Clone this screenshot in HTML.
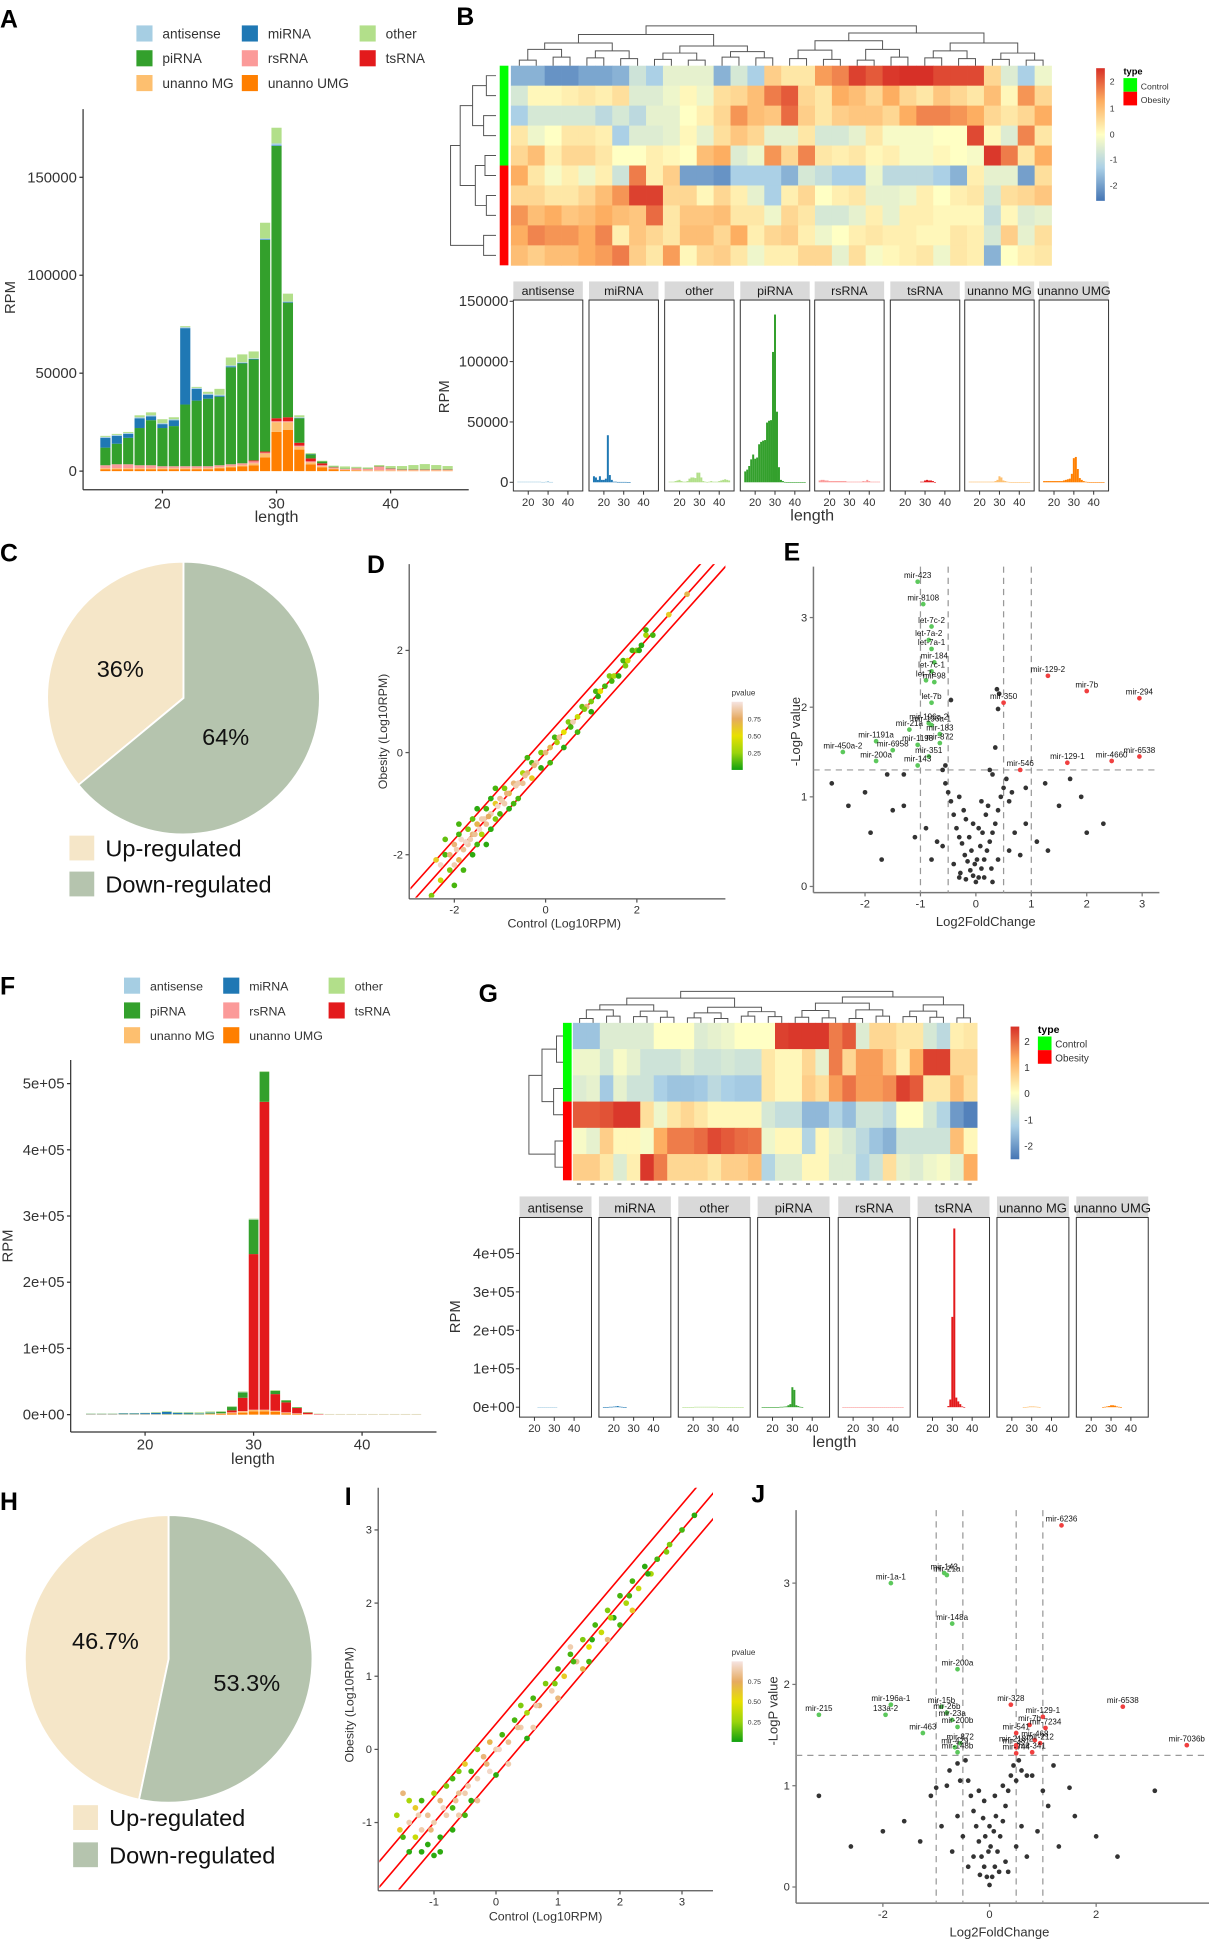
<!DOCTYPE html>
<html><head><meta charset="utf-8"><style>
html,body{margin:0;padding:0;background:#fff;}
svg{display:block;font-family:"Liberation Sans",sans-serif;}
</style></head><body>
<svg id="fig" width="1209" height="1949" viewBox="0 0 975 1572" preserveAspectRatio="none" xmlns="http://www.w3.org/2000/svg">
<rect x="0" y="0" width="975" height="1572" fill="#fff"/>
<g font-weight="bold" font-size="20" fill="#000">
<text x="0" y="22">A</text>
<text x="368" y="20">B</text>
<text x="0" y="453">C</text>
<text x="296" y="462">D</text>
<text x="632" y="452">E</text>
<text x="0" y="802">F</text>
<text x="386" y="808">G</text>
<text x="0" y="1218">H</text>
<text x="278" y="1214">I</text>
<text x="606" y="1212">J</text>
</g>
</svg>
<script>
const NS='http://www.w3.org/2000/svg';
const svg=document.getElementById('fig');
// ---------- DATA ----------
const cats=['antisense','miRNA','other','piRNA','rsRNA','tsRNA','unanno MG','unanno UMG'];
const catColors=['#a6cee3','#1f78b4','#b2df8a','#33a02c','#fb9a99','#e31a1c','#fdbf6f','#ff7f00'];
const lengths=[15,16,17,18,19,20,21,22,23,24,25,26,27,28,29,30,31,32,33,34,35,36,37,38,39,40,41,42,43,44,45];
const A_UMG=[1000,1000,1000,1000,1000,1000,1000,1000,1000,1000,1500,2000,2500,3000,7000,20000,21000,11000,3500,2000,1000,500,300,200,200,200,200,200,200,200,200];
const A_MG=[500,500,500,500,500,500,500,500,500,500,500,500,500,1000,2000,5000,4000,1500,1000,500,300,200,200,200,200,200,200,200,200,200,200];
const A_rs=[1500,2000,2000,1500,1500,1000,1000,1000,1000,1000,1000,1000,1000,1000,500,500,500,500,500,500,500,500,1000,800,2000,1000,500,500,500,500,500];
const A_ts=[0,0,0,0,0,0,0,0,0,0,0,0,0,500,500,1500,2000,1500,1500,1000,200,0,0,0,0,0,0,0,0,0,0];
const A_pi=[9000,10500,13500,19000,23000,19500,20500,31500,33500,34500,35000,49500,51000,51500,108000,139000,58500,12500,2000,1000,300,200,200,200,200,200,200,200,200,200,200];
const A_mi=[5000,4000,2000,5000,2000,2000,3000,39000,6000,2000,500,500,300,300,300,300,300,200,200,0,0,0,0,0,0,0,0,0,0,0,0];
const A_anti=[500,500,500,500,500,500,500,500,500,500,500,500,300,300,500,1000,300,300,0,0,0,0,0,0,0,0,0,0,0,0,0];
const A_other=[500,500,500,1000,1500,2000,1000,500,500,1000,3000,4000,4000,3500,8000,8000,4000,1000,500,300,500,1000,500,500,500,1000,1500,2000,2500,2000,1500];
const F_UMG=[0,0,0,0,0,0,0,0,0,0,0,500,1000,2000,3000,5000,5000,4000,2000,1000,500,0,0,0,0,0,0,0,0,0,0];
const F_MG=[0,0,0,0,0,0,0,0,0,0,0,500,500,1000,2000,2000,2000,1500,1000,500,0,0,0,0,0,0,0,0,0,0,0];
const F_rs=[500,500,500,500,500,500,500,500,500,500,500,500,500,500,500,500,500,500,500,500,500,500,500,500,500,500,500,500,500,500,500];
const F_ts=[0,0,0,0,0,0,0,0,0,0,0,0,0,3000,20000,235000,465000,25000,15000,8000,2000,500,0,0,0,0,0,0,0,0,0];
const F_pi=[300,300,300,300,300,300,300,500,500,1000,1000,1500,2000,5000,8000,52000,45000,5000,3000,1000,500,0,0,0,0,0,0,0,0,0,0];
const F_mi=[500,500,500,1000,1000,1500,2000,3000,1500,1000,500,300,0,0,0,0,0,0,0,0,0,0,0,0,0,0,0,0,0,0,0];
const F_anti=[0,0,0,0,0,0,0,500,500,500,500,500,500,500,500,500,500,0,0,0,0,0,0,0,0,0,0,0,0,0,0];
const F_other=[500,500,500,500,500,500,1000,1000,1000,1000,1000,1000,1000,1000,1000,1000,1000,1000,500,500,500,500,500,500,500,500,500,500,500,500,500];
const heatB=[
[-1.5,-1.5,-2,-2,-1.7,-1.7,-1.5,-0.6,-1,-0.3,-0.3,-0.3,-1.5,-0.5,-1,0.6,0.3,0.3,1.2,1.5,2.3,2.0,2.4,2.5,2.5,2.2,2.2,2.2,0.5,-0.4,-1,-0.2],
[-0.5,0.1,0.1,0.2,0.3,0.2,0.4,-0.4,-0.4,-0.2,0.1,-0.2,0.4,0.5,0.8,1.6,2.0,0.5,0.3,1.0,0.8,0.5,1.0,0.5,0.3,0.7,0.5,0.3,0.8,0.1,1.3,0.5],
[-1.0,-0.5,-0.5,-0.5,-0.5,-0.8,-0.5,-0.8,-0.3,-0.3,0,0.2,0.5,1.3,0.8,0.7,1.8,0.6,0.3,0.6,0.7,0.7,0.5,1.0,1.5,1.5,1.3,1.0,0.5,0.3,0.5,1.0],
[0.3,-0.2,0,0.3,0.3,0.2,-1.0,-0.4,-0.4,-0.3,0.1,-0.3,0.4,0.7,0.5,-0.3,-0.3,0.3,-0.5,-0.5,-0.3,0.3,-0.1,-0.1,-0.1,0,0,2.2,0.1,-0.4,1.5,0.3],
[0.5,0.8,0.2,0.5,0.5,0.3,0,0,0.2,0.1,0,0.8,1,-0.4,-0.2,1.3,0.5,1.5,0.3,0.2,0.3,0.1,0.2,-0.1,-0.1,0.1,0,-0.1,2.4,1.6,0.3,1.0],
[1.0,0.3,-0.1,0.2,-0.2,0.2,-0.6,1.6,0.2,0.6,-1.8,-1.8,-2,-1,-1,-1,-1.5,-0.5,-0.7,-1,-1,-0.2,-0.8,-0.8,-0.8,-1,-1.5,0.2,-0.3,-0.3,-1.8,0.4],
[0.5,0.5,0.3,0.3,0.5,0.8,1.3,2.3,2.3,0.5,0.5,0.1,0.5,0.2,-0.3,-1.0,0.2,0.5,0,0.2,0.3,-0.3,-0.3,-0.2,0.2,0,0.2,0.3,-0.5,0.4,0.5,0.7],
[1.3,0.8,1,0.7,0.8,1,0.8,0.7,1.8,0.3,0.7,0.7,0.8,0.3,0.3,-0.2,0.5,0.3,-0.5,-0.5,-0.3,0.2,-0.3,0.2,0.2,0.1,0.1,0.1,-0.7,0.1,-0.4,-0.3],
[1.0,1.5,1.3,1.3,1,1.5,0.2,0.7,0.5,0.3,0.8,0.8,0.5,1.0,0.2,0.5,0.6,0.2,-0.2,0,0.2,0.3,0.2,0.2,0.1,0.1,0.3,0.2,-0.5,0.6,-0.3,0.4],
[0.8,0.6,0.8,0.8,1,1.2,1.6,0.6,0.3,1.2,0.1,0.5,0.6,0.3,-0.2,0.2,0.2,0.5,0.5,-0.3,0.4,-0.1,0.1,0.2,0.3,-0.2,0.3,0.2,-1.5,0,0.2,0.3]];
const heatG=[
[-1.2,-1.2,-0.4,-0.4,-0.4,-0.4,0,0,0,-0.4,-0.3,-0.2,0,0,0,2.3,2.4,2.4,2.4,1.6,2.0,-0.4,0.5,0.5,0.3,0.3,-0.5,-0.8,0.2,0.3],
[-0.2,-0.2,-0.5,-0.1,-0.3,-0.6,-0.6,-0.6,-0.4,-0.6,-0.6,-0.5,-0.6,-0.6,0.3,0.1,0.1,0.5,-0.3,1.6,0.5,1.2,1.2,0.7,0.2,1.0,2.3,2.3,0.5,0.5],
[-0.4,-0.3,-1.1,-0.3,-0.6,-0.6,-1,-1.2,-1.2,-1.1,-0.8,-1,-1.1,-1.1,0.3,0.1,0.1,0.6,0.4,1.2,1.7,1.2,1.2,1.4,2.3,2.0,0.3,0.3,0.8,0.4],
[2.0,2.0,2.1,2.4,2.4,0.4,-0.2,0.3,0.5,0.3,0.1,0.1,0.1,0.1,-0.5,-0.7,-0.7,-1.4,-1.4,-0.9,-1.3,-0.6,-0.6,-0.8,0,0,-0.5,-0.9,-1.9,-2.3],
[-0.1,-0.3,0.6,0.1,0.1,-0.1,1.0,1.6,1.6,1.8,2.2,2.0,1.8,1.7,-0.2,0.1,0.1,-0.9,0.1,-0.3,-0.5,-0.8,-1.2,-1.5,-0.6,-0.6,-0.6,-0.6,0.8,0.1],
[0.6,0.6,0.3,-0.4,0.2,2.4,1.6,0.5,0.5,0.5,0.3,0.6,0.6,0.8,-0.9,-0.4,-0.4,0.1,0.1,-0.4,-0.4,-0.9,-0.6,0.4,-0.3,-0.4,-0.2,-0.1,-0.3,1.0]];
const pieC=[36,64];
const pieH=[46.7,53.3];
const D_x=[-2.4,-2.3,-2.2,-2.1,-2.0,-2.0,-1.9,-1.9,-1.8,-1.8,-1.7,-1.7,-1.6,-1.6,-1.6,-1.5,-1.5,-1.4,-1.4,-1.3,-1.3,-1.2,-1.2,-1.1,-1.1,-1.0,-1.0,-0.9,-0.9,-0.8,-0.8,-0.7,-0.6,-0.6,-0.5,-0.5,-0.4,-0.3,-0.3,-0.2,-0.1,-0.1,0.0,0.1,0.1,0.2,0.3,0.4,0.4,0.5,0.6,0.7,0.7,0.8,0.9,1.0,1.0,1.1,1.2,1.3,1.4,1.5,1.6,1.7,1.8,1.9,2.0,2.1,2.2,2.2,2.7,3.1,-1.5,-1.9,-2.0,-1.3,-1.1,-0.7,-2.2,-1.75,-1.45,-1.65,
-2.3,-2.1,-1.95,-1.85,-1.55,-1.35,-1.25,-1.05,-0.95,-0.85,-0.65,-0.45,-0.25,0.25,0.55,0.85,1.15,1.45,1.75,2.05,2.35,-2.5,-1.2,-0.4];
const D_y=[-2.1,-2.5,-2.0,-2.3,-1.8,-2.2,-1.6,-2.1,-1.9,-2.3,-1.5,-1.8,-1.6,-2.0,-1.3,-1.4,-1.8,-1.3,-1.6,-1.1,-1.4,-1.2,-1.5,-1.0,-1.3,-0.9,-1.2,-0.7,-1.0,-0.8,-1.1,-0.6,-0.6,-0.9,-0.4,-0.6,-0.4,-0.2,-0.5,-0.2,0.0,-0.3,0.0,0.1,-0.2,0.3,0.3,0.4,0.1,0.6,0.6,0.7,0.4,0.9,0.9,1.0,0.8,1.2,1.2,1.3,1.5,1.5,1.5,1.8,1.8,2.0,2.0,2.1,2.3,2.4,2.7,3.1,-1.1,-1.4,-2.6,-1.8,-0.7,-1.0,-1.7,-1.75,-1.5,-1.7,
-2.2,-2.0,-1.9,-1.7,-1.6,-1.3,-1.25,-1.05,-0.95,-0.8,-0.65,-0.45,-0.25,0.2,0.5,0.85,1.1,1.4,1.7,2.0,2.3,-2.8,-0.9,-0.1];
const D_p=[0.6,0.4,0.1,0.2,0.8,0.9,0.1,0.7,0.85,0.1,0.2,0.9,0.8,0.05,0.15,0.7,0.1,0.9,0.3,0.1,0.85,0.9,0.05,0.6,0.2,0.85,0.1,0.2,0.9,0.7,0.05,0.8,0.9,0.1,0.3,0.85,0.8,0.1,0.6,0.9,0.2,0.05,0.8,0.7,0.1,0.1,0.85,0.5,0.05,0.2,0.9,0.4,0.1,0.15,0.8,0.2,0.05,0.1,0.5,0.1,0.2,0.3,0.05,0.1,0.4,0.1,0.2,0.05,0.3,0.1,0.6,0.7,0.05,0.1,0.1,0.05,0.1,0.1,0.15,0.95,0.95,0.9,
0.95,0.8,0.9,0.95,0.85,0.9,0.75,0.95,0.9,0.8,0.9,0.85,0.8,0.3,0.1,0.2,0.05,0.1,0.2,0.05,0.1,0.2,0.05,0.1];
const I_x=[-1.6,-1.5,-1.5,-1.4,-1.4,-1.3,-1.3,-1.2,-1.2,-1.1,-1.1,-1.0,-1.0,-0.9,-0.9,-0.8,-0.8,-0.7,-0.7,-0.6,-0.6,-0.5,-0.5,-0.4,-0.4,-0.3,-0.3,-0.2,-0.1,0.0,0.1,0.2,0.3,0.4,0.5,0.6,0.7,0.8,0.9,1.0,1.1,1.2,1.3,1.4,1.5,1.6,1.7,1.8,1.9,2.0,2.1,2.2,2.3,2.4,2.5,2.6,2.8,3.0,3.2,-1.2,-0.9,-0.6,-0.3,0.2,0.6,1.0,1.4,1.8,2.2,-1.4,-0.7,-0.1,0.4,1.2,2.0,
-1.55,-1.25,-1.05,-0.85,-0.65,-0.45,-0.15,0.05,0.35,0.65,0.95,1.25,1.55,1.85,2.15,2.45,2.75,-1.0,-0.5,0.0,0.5,1.5];
const I_y=[-0.9,-1.2,-0.6,-1.0,-1.4,-0.8,-1.2,-1.1,-0.7,-0.9,-1.3,-0.6,-1.0,-0.7,-1.2,-0.5,-0.9,-0.4,-1.1,-0.6,-0.3,-0.2,-0.6,-0.3,-0.7,0.0,-0.4,-0.1,0.1,0.0,0.2,0.1,0.4,0.3,0.5,0.7,0.6,0.9,0.8,1.1,1.0,1.3,1.2,1.5,1.4,1.7,1.6,1.9,1.8,2.1,2.0,2.3,2.2,2.5,2.4,2.6,2.8,3.0,3.2,-1.4,-1.4,-0.9,-0.7,-0.2,0.3,0.7,1.1,1.5,1.9,-0.7,-0.8,-0.3,0.6,1.4,1.7,
-1.1,-0.9,-1.1,-0.8,-0.7,-0.5,-0.2,0.0,0.3,0.6,0.9,1.2,1.5,1.8,2.1,2.4,2.7,-1.45,-0.9,-0.35,0.15,1.2];
const I_p=[0.3,0.1,0.8,0.9,0.05,0.6,0.4,0.9,0.1,0.85,0.05,0.3,0.9,0.8,0.05,0.2,0.9,0.1,0.05,0.85,0.2,0.6,0.9,0.1,0.05,0.2,0.9,0.8,0.7,0.9,0.1,0.85,0.1,0.9,0.3,0.1,0.8,0.2,0.9,0.1,0.6,0.1,0.85,0.2,0.5,0.1,0.4,0.2,0.05,0.1,0.3,0.1,0.4,0.05,0.3,0.1,0.2,0.1,0.05,0.05,0.05,0.9,0.85,0.9,0.9,0.8,0.7,0.8,0.6,0.3,0.1,0.95,0.2,0.9,0.1,
0.6,0.9,0.8,0.95,0.85,0.9,0.8,0.95,0.85,0.9,0.2,0.1,0.05,0.3,0.1,0.05,0.2,0.05,0.1,0.05,0.05,0.1];
const E_lab=['mir-423','mir-8108','let-7c-2','let-7a-2','let-7a-1','mir-184','let-7c-1','let-7e','mir-98','let-7b','mir-196a-2','mir-196a-1','mir-21a','mir-183','mir-1191a','mir-1198','mir-872','mir-450a-2','mir-6958','mir-351','mir-143','mir-200a','mir-129-2','mir-7b','mir-294','mir-350','mir-546','mir-129-1','mir-4660','mir-6538'];
const E_labX=[-1.05,-0.95,-0.8,-0.85,-0.8,-0.75,-0.8,-0.9,-0.75,-0.8,-0.85,-0.8,-1.2,-0.65,-1.8,-1.05,-0.65,-2.4,-1.5,-0.85,-1.05,-1.8,1.3,2.0,2.95,0.5,0.8,1.65,2.45,2.95];
const E_labY=[3.4,3.15,2.9,2.75,2.65,2.5,2.4,2.3,2.28,2.05,1.82,1.8,1.75,1.7,1.62,1.58,1.6,1.5,1.52,1.45,1.35,1.4,2.35,2.18,2.1,2.05,1.3,1.38,1.4,1.45];
const E_cx=[0,0.05,-0.05,0.1,-0.1,0.15,-0.15,0.2,-0.2,0.25,-0.25,0.3,-0.3,0.35,-0.35,0.4,-0.4,0.45,-0.45,0.5,-0.5,0.55,-0.55,0.02,-0.02,0.08,-0.08,0.12,-0.12,0.18,-0.18,0.22,-0.22,0.28,-0.28,0.4,-0.4,0.6,-0.6,0.7,-0.7,0.8,-0.8,0.9,-0.9,1.1,-1.1,1.3,-1.3,1.5,-1.5,1.7,-1.7,1.9,-1.9,2.0,-2.0,2.3,-2.3,-2.6,0.38,0.42,0.4,0.35,-0.45,-0.6,-0.55,0.3,0.25,0.6,0.65,0.9,1.25,-1.3,-1.6,-0.3,0.1,-0.05,0.05,0.15,-0.18,0.3,-0.3];
const E_cy=[0.05,0.1,0.12,0.2,0.18,0.3,0.28,0.4,0.35,0.5,0.48,0.6,0.55,0.7,0.65,0.85,0.8,1.0,0.95,1.1,1.05,1.2,1.15,0.3,0.25,0.45,0.4,0.6,0.55,0.8,0.75,0.9,0.85,0.2,0.15,0.3,0.25,0.4,0.45,0.6,0.5,0.35,0.3,0.7,0.65,0.5,0.55,0.4,0.9,0.9,0.85,1.2,0.3,1.0,0.6,0.6,1.05,0.7,0.9,1.15,2.2,2.15,1.98,1.55,2.08,1.3,1.35,1.25,1.3,0.95,1.05,1.1,1.15,1.25,1.25,1.0,0.95,0.7,0.65,0.1,0.08,0.05,0.1];
const J_lab=['mir-6236','mir-143','mir-21a','mir-1a-1','mir-148a','mir-200a','mir-196a-1','mir-15b','mir-26b','mir-23a','mir-215','133a-2','mir-200b','mir-463','mir-872','mir-429','mir-148b','mir-328','mir-129-1','mir-7b','mir-7234','mir-541','mir-468','mir-218-2','mir-212','mir-381','mir-744','mir-341','mir-6538','mir-7036b'];
const J_labX=[1.35,-0.85,-0.8,-1.85,-0.7,-0.6,-1.85,-0.9,-0.8,-0.7,-3.2,-1.95,-0.6,-1.25,-0.55,-0.65,-0.6,0.4,1.0,0.75,1.05,0.5,0.85,0.5,0.95,0.5,0.5,0.8,2.5,3.7];
const J_labY=[3.57,3.1,3.08,3.0,2.6,2.15,1.8,1.78,1.72,1.65,1.7,1.7,1.58,1.52,1.42,1.38,1.33,1.8,1.68,1.6,1.57,1.52,1.45,1.4,1.42,1.38,1.32,1.33,1.78,1.4];
const J_cx=[0,0.05,-0.05,0.1,-0.1,0.15,-0.15,0.2,-0.2,0.25,-0.25,0.3,-0.3,0.35,-0.35,0.4,-0.4,0.45,-0.45,0.02,-0.02,0.08,-0.08,0.12,-0.12,0.18,-0.18,0.3,-0.3,0.5,-0.5,0.6,-0.6,0.7,-0.7,0.9,-0.9,1.1,-1.1,1.3,-1.3,1.6,-1.6,2.0,-2.0,2.4,-2.6,-3.2,3.1,1.5,-1.0,0.55,0.5,-0.6,-0.55,0.8,-0.8,1.0,0.25,-0.2,0.6,0.7,1.2,-0.75,-0.1,0.1,0.0,0.35,-0.4];
const J_cy=[0.02,0.1,0.1,0.2,0.2,0.35,0.3,0.5,0.45,0.65,0.6,0.8,0.75,0.95,0.9,1.1,1.05,1.2,1.25,0.4,0.35,0.55,0.5,0.7,0.68,0.15,0.12,0.25,0.3,0.4,0.5,0.6,0.7,0.3,0.35,0.55,0.6,0.8,0.9,0.4,0.45,0.7,0.65,0.5,0.55,0.3,0.4,0.9,0.95,0.98,0.98,1.25,1.05,1.22,1.05,1.1,1.0,0.95,1.0,0.95,1.15,1.1,1.2,1.15,0.85,0.9,0.6,0.15,0.2];
// ---------- HELPERS ----------
function mk(tag,attrs,parent){const e=document.createElementNS(NS,tag);for(const k in attrs)e.setAttribute(k,attrs[k]);(parent||svg).appendChild(e);return e;}
function tx(x,y,s,size,anchor,extra){const e=mk('text',Object.assign({x:x,y:y,'font-size':size,'text-anchor':anchor||'start',fill:'#333'},extra||{}));e.textContent=s;return e;}
function lerp(a,b,t){return a+(b-a)*t;}
function hex(c){return [parseInt(c.substr(1,2),16),parseInt(c.substr(3,2),16),parseInt(c.substr(5,2),16)];}
function ramp(stops,cols,v){if(v<=stops[0])return cols[0];for(let i=1;i<stops.length;i++){if(v<=stops[i]){const t=(v-stops[i-1])/(stops[i]-stops[i-1]);const a=hex(cols[i-1]),b=hex(cols[i]);return 'rgb('+[0,1,2].map(k=>Math.round(lerp(a[k],b[k],t))).join(',')+')';}}return cols[cols.length-1];}
const hmStops=[-2.5,-1,0,1,2.5];const hmCols=['#4575b4','#abd0e6','#ffffc4','#fdae61','#d73027'];
const pStops=[0,0.25,0.5,0.75,1];const pCols=['#10a010','#9ad40c','#e8e000','#e6aa60','#f6e4e2'];
function line(x1,y1,x2,y2,col,w,extra){return mk('line',Object.assign({x1:x1,y1:y1,x2:x2,y2:y2,stroke:col,'stroke-width':w},extra||{}));}
// ---------- PANEL A ----------
const stackA=[A_UMG,A_MG,A_rs,A_ts,A_pi,A_mi,A_anti,A_other];
const stackColIdx=[7,6,4,5,3,1,0,2];
function xA(l){return 131+(l-20)*9.2;}
function yA(v){return 380-v*79/50000;}
line(67,88,67,395,'#333',1);line(67,395,378,395,'#333',1);
[0,50000,100000,150000].forEach(v=>{line(64,yA(v),67,yA(v),'#333',1);tx(62,yA(v)+4,String(v),12,'end');});
[20,30,40].forEach(v=>{line(xA(v),395,xA(v),398,'#333',1);tx(xA(v),410,String(v),12,'middle');});
tx(223,421,'length',13,'middle');
tx(12,240,'RPM',12,'middle',{transform:'rotate(-90 12 240)'});
lengths.forEach((l,i)=>{let acc=0;stackA.forEach((arr,s)=>{const v=arr[i];if(v>0){const r=mk('rect',{x:xA(l)-4.1,y:yA(acc+v),width:8.2,height:yA(acc)-yA(acc+v),fill:catColors[stackColIdx[s]]});


acc+=v;}});});
function legend(x0s,y0s,sz,fs,tag){cats.forEach((c,i)=>{const col=i%3,row=Math.floor(i/3);const x=x0s[col],y=y0s[row];const r=mk('rect',{x:x,y:y-sz/2,width:sz,height:sz,fill:catColors[i]});


const t=tx(x+sz+8,y+4,c,fs,'start');

});}
legend([110,195,290],[27,47,67],13,11,'a');
legend([100,180,265],[795,815,835],13,10,'f');
// ---------- HEATMAPS ----------
function heatmap(M,x0,y0,w,h,tag){const nr=M.length,nc=M[0].length;const cw=w/nc,ch=h/nr;M.forEach((row,r)=>row.forEach((v,c)=>{const e=mk('rect',{x:x0+c*cw,y:y0+r*ch,width:cw+0.3,height:ch+0.3,fill:ramp(hmStops,hmCols,v)});

}));
return {cw:cw,ch:ch};}
function dendroTop(x0,cw,n,ybot,ytop){let nodes=[];for(let i=0;i<n;i++)nodes.push({x:x0+cw*(i+0.5),y:ybot});let lvl=0;while(nodes.length>1){const nn=[];for(let i=0;i<nodes.length;i+=2){if(i+1<nodes.length){const a=nodes[i],b=nodes[i+1];const hy=Math.min(a.y,b.y)-(ybot-ytop)/(Math.log2(n)+1)*(0.6+0.4*((i*7+lvl*3)%5)/5);mk('path',{d:`M${a.x},${a.y}V${hy}H${b.x}V${b.y}`,fill:'none',stroke:'#555','stroke-width':0.8});nn.push({x:(a.x+b.x)/2,y:hy});}else nn.push(nodes[i]);}nodes=nn;lvl++;}}
function dendroLeft(y0,ch,n,xr,xl){let nodes=[];for(let i=0;i<n;i++)nodes.push({y:y0+ch*(i+0.5),x:xr});let lvl=0;while(nodes.length>1){const nn=[];for(let i=0;i<nodes.length;i+=2){if(i+1<nodes.length){const a=nodes[i],b=nodes[i+1];const hx=Math.min(a.x,b.x)-(xr-xl)/(Math.log2(n)+1)*(0.7+0.3*((i+lvl)%3)/3);mk('path',{d:`M${a.x},${a.y}H${hx}V${b.y}H${b.x}`,fill:'none',stroke:'#555','stroke-width':0.8});nn.push({y:(a.y+b.y)/2,x:hx});}else nn.push(nodes[i]);}nodes=nn;lvl++;}}
let hb=heatmap(heatB,412,53,436,161,'b');
dendroTop(412,hb.cw,32,53,8);dendroLeft(53,hb.ch,10,400,352);
mk('rect',{x:403,y:53,width:7,height:80.5,fill:'#00ff00'});mk('rect',{x:403,y:133.5,width:7,height:80.5,fill:'#ff0000'});
let hg=heatmap(heatG,462,825,326,127,'g');
dendroTop(462,hg.cw,30,825,790);dendroLeft(825,hg.ch,6,457,415);
mk('rect',{x:454,y:825,width:7,height:63.5,fill:'#00ff00'});mk('rect',{x:454,y:888.5,width:7,height:63.5,fill:'#ff0000'});
for(let c=0;c<30;c++)line(462+hg.cw*(c+0.3),955,462+hg.cw*(c+0.6),955,'#333',0.8);
function hmLegend(x,y,h,ticks,tickY,fs,tag){const g=mk('defs',{});const lg=mk('linearGradient',{id:'hg'+tag,x1:0,y1:0,x2:0,y2:1},g);['#d73027','#fdae61','#ffffc4','#abd0e6','#4575b4'].forEach((c,i)=>mk('stop',{offset:i/4,'stop-color':c},lg));
mk('rect',{x:x,y:y,width:7,height:h,fill:'url(#hg'+tag+')'});
ticks.forEach((t,i)=>tx(x+11,tickY[i],t,fs,'start'));
tx(x+22,y+5,'type',fs+0.5,'start',{'font-weight':'bold',fill:'#000'});
mk('rect',{x:x+22,y:y+8,width:11,height:11,fill:'#00ff00'});mk('rect',{x:x+22,y:y+19,width:11,height:11,fill:'#ff0000'});
tx(x+36,y+17,'Control',fs,'start');tx(x+36,y+28,'Obesity',fs,'start');}
hmLegend(884,55,107,['2','1','0','-1','-2'],[68,90,111,131,152],7,'b');
hmLegend(815,828,107,['2','1','0','-1','-2'],[843,864,885,906,927],8,'g');
// ---------- FACETS ----------
const facetStacks=[A_anti,A_mi,A_other,A_pi,A_rs,A_ts,A_MG,A_UMG];
const facetStacksG=[F_anti,F_mi,F_other,F_pi,F_rs,F_ts,F_MG,F_UMG];
function facets(x0s,w,stripY,stripH,plotB,yZero,yScale,ticks,tickLbl,data,tag,fs){x0s.forEach((x0,i)=>{mk('rect',{x:x0,y:stripY,width:w,height:stripH,fill:'#d9d9d9'});
const st=tx(x0+w/2,stripY+stripH-4,cats[i],fs,'middle',{fill:'#1a1a1a'});


mk('rect',{x:x0,y:stripY+stripH,width:w,height:plotB-stripY-stripH,fill:'#fff',stroke:'#333','stroke-width':0.8});
lengths.forEach((l,j)=>{const v=data[i][j];if(v<=0)return;const bx=x0+12+(l-20)*1.6;const r=mk('rect',{x:bx-0.8,y:yZero-v*yScale,width:1.6,height:Math.max(0.5,v*yScale),fill:catColors[i]});

});
[20,30,40].forEach(t=>{const xx=x0+12+(t-20)*1.6;line(xx,plotB,xx,plotB+3,'#333',0.8);tx(xx,plotB+12,String(t),9,'middle');});});
ticks.forEach((t,k)=>{const yy=yZero-t*yScale;line(x0s[0]-3,yy,x0s[0],yy,'#333',0.8);tx(x0s[0]-4,yy+4,tickLbl[k],12,'end');});}
facets([414,475,536,597,657,718,778,838],56,227,15,396,389,146/150000,[0,50000,100000,150000],['0','50000','100000','150000'],facetStacks,'b',10);
tx(655,420,'length',13,'middle');tx(362,320,'RPM',12,'middle',{transform:'rotate(-90 362 320)'});
facets([419,483,547,611,676,740,804,868],58,965,17,1143,1135,31/100000,[0,100000,200000,300000,400000],['0e+00','1e+05','2e+05','3e+05','4e+05'],facetStacksG,'g',10.5);
tx(673,1167,'length',13,'middle');tx(371,1062,'RPM',12,'middle',{transform:'rotate(-90 371 1062)'});
// ---------- PANEL F ----------
const stackF=[F_UMG,F_MG,F_rs,F_ts,F_pi,F_mi,F_anti,F_other];
function xF(l){return 117+(l-20)*8.75;}
function yF(v){return 1141-v*53.4/100000;}
line(57,855,57,1155,'#333',1);line(57,1155,352,1155,'#333',1);
['0e+00','1e+05','2e+05','3e+05','4e+05','5e+05'].forEach((s,k)=>{const yy=yF(k*100000);line(54,yy,57,yy,'#333',1);tx(52,yy+4,s,12,'end');});
[20,30,40].forEach(v=>{line(xF(v),1155,xF(v),1158,'#333',1);tx(xF(v),1169,String(v),12,'middle');});
tx(204,1181,'length',13,'middle');tx(10,1005,'RPM',12,'middle',{transform:'rotate(-90 10 1005)'});
lengths.forEach((l,i)=>{let acc=0;stackF.forEach((arr,s)=>{const v=arr[i];if(v>0){const r=mk('rect',{x:xF(l)-3.9,y:yF(acc+v),width:7.8,height:yF(acc)-yF(acc+v),fill:catColors[stackColIdx[s]]});


acc+=v;}});});
// ---------- PIES ----------
function pie(cx,cy,r,vals,labels,lblPos,tag){const up=vals[0]/100*2*Math.PI;const px=cx-r*Math.sin(up),py=cy-r*Math.cos(up);
const a=mk('path',{d:`M${cx},${cy}L${cx},${cy-r}A${r},${r} 0 ${up>Math.PI?1:0} 0 ${px},${py}Z`,fill:'#f5e6c8',stroke:'#fff','stroke-width':1.5});


const b=mk('path',{d:`M${cx},${cy}L${cx},${cy-r}A${r},${r} 0 ${up>Math.PI?0:1} 1 ${px},${py}Z`,fill:'#b5c4ae',stroke:'#fff','stroke-width':1.5});


labels.forEach((s,i)=>tx(lblPos[i][0],lblPos[i][1],s,19,'middle',{fill:'#111'}));}
pie(148,563,110,pieC,['36%','64%'],[[97,546],[182,601]],'c');
pie(136,1338,116,pieH,['46.7%','53.3%'],[[85,1330],[199,1364]],'h');
[[56,674,691,'Up-regulated'],[56,703,720,'Down-regulated'],[59,1456,1473,'Up-regulated'],[59,1486,1503,'Down-regulated']].forEach((d,i)=>{mk('rect',{x:d[0],y:d[1],width:20,height:20,fill:i%2?'#b5c4ae':'#f5e6c8'});const t=tx(d[0]+29,d[2],d[3],19,'start',{fill:'#111'});

});
// ---------- SCATTERS D & I ----------
function pBar(x,y,h,tag,ticks){const d=mk('defs',{});const lg=mk('linearGradient',{id:'pg'+tag,x1:0,y1:0,x2:0,y2:1},d);pCols.slice().reverse().forEach((c,i)=>mk('stop',{offset:i/4,'stop-color':c},lg));mk('rect',{x:x,y:y,width:9,height:h,fill:'url(#pg'+tag+')'});tx(x,y-5,'pvalue',6.5,'start');ticks.forEach((t,i)=>tx(x+13,y+h*(1-t)+2,t.toFixed(2),5.5,'start'));}
function scatterInto(g,X,Y,P,sx,sy,tag,lo,hi,off){[-off,0,off].forEach(o=>{mk('line',{x1:sx(lo),y1:sy(lo+o),x2:sx(hi),y2:sy(hi+o),stroke:'#ff0000','stroke-width':1.3},g);});
X.forEach((x,i)=>{const c=mk('circle',{cx:sx(x),cy:sy(Y[i]),r:2.3,fill:ramp(pStops,pCols,P[i])},g);

});}
function xD(v){return 440+v*36.8;}function yD(v){return 607-v*41.2;}
line(330,455,330,725,'#555',1);line(330,725,585,725,'#555',1);
[-2,0,2].forEach(v=>{line(xD(v),725,xD(v),728,'#555',1);tx(xD(v),737,String(v),9,'middle');line(327,yD(v),330,yD(v),'#555',1);tx(325,yD(v)+3,String(v),9,'end');});
tx(455,748,'Control (Log10RPM)',10,'middle');tx(312,590,'Obesity (Log10RPM)',10,'middle',{transform:'rotate(-90 312 590)'});
const cD=mk('clipPath',{id:'clipD'});mk('rect',{x:331,y:455,width:254,height:269},cD);
const sD=mk('g',{'clip-path':'url(#clipD)'});
scatterInto(sD,D_x,D_y,D_p,xD,yD,'d',-3.2,4.2,0.3);
pBar(590,566,55,'d',[0.25,0.5,0.75]);
function xI(v){return 400+v*50;}function yI(v){return 1411-v*59;}
line(305,1200,305,1525,'#555',1);line(305,1525,575,1525,'#555',1);
[-1,0,1,2,3].forEach(v=>{line(xI(v),1525,xI(v),1528,'#555',1);tx(xI(v),1537,String(v),9,'middle');line(302,yI(v),305,yI(v),'#555',1);tx(300,yI(v)+3,String(v),9,'end');});
tx(440,1549,'Control (Log10RPM)',10,'middle');tx(285,1375,'Obesity (Log10RPM)',10,'middle',{transform:'rotate(-90 285 1375)'});
const cI=mk('clipPath',{id:'clipI'});mk('rect',{x:306,y:1200,width:269,height:324},cI);
const sI=mk('g',{'clip-path':'url(#clipI)'});
scatterInto(sI,I_x,I_y,I_p,xI,yI,'i',-2.2,3.8,0.35);
pBar(590,1340,65,'i',[0.25,0.5,0.75]);
// ---------- VOLCANOS ----------
function volcano(cx,cy,lx,ly,labs,sx,sy,axX,axTop,axY,axRight,xt,yt,hline,vlines,tag,titleX,titleY,ylabX,ylabY){
line(axX,axTop,axX,axY,'#777',1.2);line(axX,axY,axRight,axY,'#777',1.2);
xt.forEach(v=>{line(sx(v),axY,sx(v),axY+3,'#777',1);tx(sx(v),axY+12,String(v),9,'middle');});
yt.forEach(v=>{line(axX-3,sy(v),axX,sy(v),'#777',1);tx(axX-5,sy(v)+3,String(v),9,'end');});
vlines.forEach(v=>line(sx(v),axTop,sx(v),axY,'#999',1,{'stroke-dasharray':'5,4'}));
line(axX,sy(hline),axRight,sy(hline),'#999',1,{'stroke-dasharray':'5,4'});
tx(titleX,titleY,'Log2FoldChange',10.5,'middle');tx(ylabX,ylabY,'-LogP value',10.5,'middle',{transform:`rotate(-90 ${ylabX} ${ylabY})`});
cx.forEach((x,i)=>{const c=mk('circle',{cx:sx(x),cy:sy(cy[i]),r:1.9,fill:'#333'});

});
labs.forEach((s,i)=>{const up=lx[i]>0;const c=mk('circle',{cx:sx(lx[i]),cy:sy(ly[i]),r:1.9,fill:up?'#f04040':'#5cc85c'});


tx(sx(lx[i]),sy(ly[i])-3,s,6.5,'middle',{fill:'#111'});});}
function xE(v){return 787+v*44.7;}function yE(v){return 715-v*72.3;}
volcano(E_cx,E_cy,E_labX,E_labY,E_lab,xE,yE,656,457,720,935,[-2,-1,0,1,2,3],[0,1,2,3],1.3,[-1,-0.5,0.5,1],'e',795,747,645,590);
function xJ(v){return 798+v*43;}function yJ(v){return 1522-v*81.7;}
volcano(J_cx,J_cy,J_labX,J_labY,J_lab,xJ,yJ,642,1218,1535,975,[-2,0,2],[0,1,2,3],1.3,[-1,-0.5,0.5,1],'j',806,1562,627,1380);
</script>
</body></html>
